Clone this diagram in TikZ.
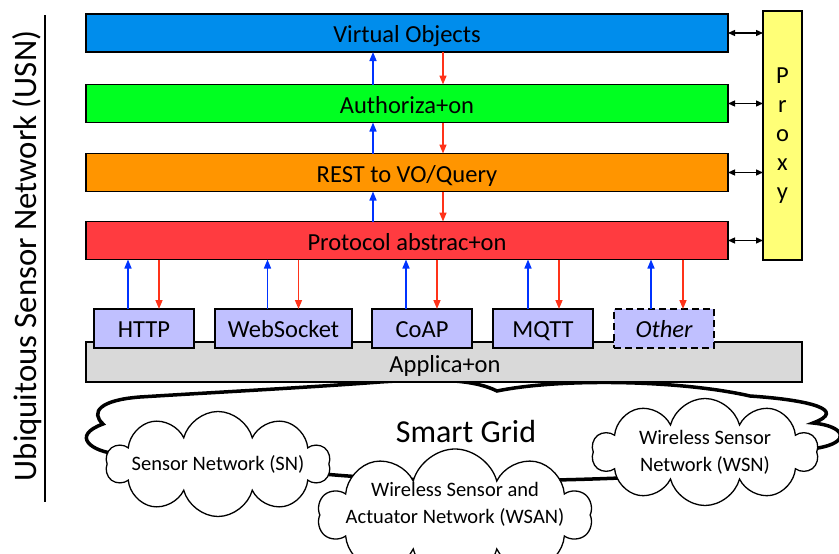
\documentclass[tikz,border=0pt]{standalone}
\usepackage{fontspec}
\setmainfont{Carlito}
\usetikzlibrary{arrows.meta,shapes.symbols}

\definecolor{voblue}{RGB}{0,141,236}
\definecolor{authgreen}{RGB}{0,255,33}
\definecolor{restorange}{RGB}{255,149,0}
\definecolor{protored}{RGB}{255,59,64}
\definecolor{proxyyellow}{RGB}{255,255,119}
\definecolor{lavender}{RGB}{192,192,255}
\definecolor{appgray}{RGB}{217,217,217}
\definecolor{upblue}{RGB}{0,51,255}
\definecolor{downred}{RGB}{255,51,25}

\tikzset{
  layer/.style={draw, line width=1.5pt, minimum width=642, minimum height=38,
    inner sep=0pt, outer sep=0pt, text height=19pt, text depth=0pt,
    font=\fontsize{24.5}{29}\selectfont},
  protobox/.style={draw, fill=lavender, line width=1.8pt, minimum width=100,
    minimum height=39, inner sep=0pt, outer sep=0pt, text height=18pt, text depth=0pt,
    font=\fontsize{24.5}{29}\selectfont},
  netcloud/.style={cloud, cloud puffs=10, cloud ignores aspect, draw, fill=white,
    line width=1.3pt, inner sep=0pt},
  cloudtext/.style={align=center, font=\fontsize{20.5}{27}\selectfont},
  up/.style={draw=upblue, line width=1.5pt, -{Triangle[length=9pt,width=7pt]}},
  down/.style={draw=downred, line width=1.5pt, -{Triangle[length=9pt,width=7pt]}},
  both/.style={line width=1.3pt, {Triangle[length=7pt,width=6pt]}-{Triangle[length=7pt,width=6pt]}}
}

\begin{document}
\begin{tikzpicture}[x=1pt, y=-1pt]
    \clip (0,0) rectangle (839,554);
    % Side label
    \node[rotate=90, font=\fontsize{32.8}{38}\selectfont] (usn) at (27,256) {Ubiquitous Sensor Network (USN)};
    \draw[line width=1.3pt] (45,15) -- (45,502);
    % Layers
    \node[layer, fill=voblue] (vo) at (407,33) {Virtual Objects};
    \node[layer, fill=authgreen] (auth) at (407,103.5) {Authoriza+on};
    \node[layer, fill=restorange] (rest) at (407,172.5) {REST to VO/Query};
    \node[layer, fill=protored] (proto) at (407,240.5) {Protocol abstrac+on};
    \node[draw, fill=proxyyellow, line width=1.5pt, minimum width=39, minimum height=249,
      inner sep=0pt, outer sep=0pt, align=center, font=\fontsize{24.5}{29}\selectfont]
      (proxy) at (782.5,135.5) {P\\r\\o\\x\\y};
    \draw[both] (vo.east) -- (vo.east -| proxy.west);
    \draw[both] (auth.east) -- (auth.east -| proxy.west);
    \draw[both] (rest.east) -- (rest.east -| proxy.west);
    \draw[both] (proto.east) -- (proto.east -| proxy.west);
    \draw[up] ([xshift=-34pt]auth.north) -- ([xshift=-34pt]vo.south);
    \draw[down] ([xshift=36pt]vo.south) -- ([xshift=36pt]auth.north);
    \draw[up] ([xshift=-34pt]rest.north) -- ([xshift=-34pt]auth.south);
    \draw[down] ([xshift=36pt]auth.south) -- ([xshift=36pt]rest.north);
    \draw[up] ([xshift=-34pt]proto.north) -- ([xshift=-34pt]rest.south);
    \draw[down] ([xshift=36pt]rest.south) -- ([xshift=36pt]proto.north);
    % Smart grid
    \draw[line width=3.5pt, line join=miter]
      (118,454) .. controls (92,452) and (70,436) .. (103,424)
      .. controls (90,412) and (100,400) .. (140,397)
      .. controls (220,392) and (300,388) .. (380,382)
      .. controls (440,378) and (475,380) .. (497,391)
      .. controls (560,378) and (680,380) .. (750,396)
      .. controls (810,400) and (848,410) .. (813,423)
      .. controls (845,426) and (852,442) .. (818,448)
      .. controls (780,470) and (700,478) .. (620,478)
      .. controls (520,482) and (420,482) .. (335,475)
      .. controls (250,468) and (180,460) .. cycle;
    \node[font=\fontsize{32}{38}\selectfont] (grid) at (466,432) {Smart Grid};
    % Application and protocols
    \node[draw, fill=appgray, line width=1.3pt, minimum width=716, minimum height=40,
      inner sep=0pt, outer sep=0pt, font=\fontsize{24.5}{29}\selectfont] (app) at (444,362) {};
    \node (apptext) at (445,366) {\fontsize{24.5}{29}\selectfont Applica+on};
    \node[protobox] (http) at (144,328.5) {HTTP};
    \node[protobox, minimum width=137] (ws) at (283.5,328.5) {WebSocket};
    \node[protobox] (coap) at (422,328.5) {CoAP};
    \node[protobox] (mqtt) at (543,328.5) {MQTT};
    \node[protobox, dash pattern=on 7pt off 4pt] (other) at (664,328.5) {\itshape Other};
    \draw[up] ([xshift=-16pt]http.north) -- ([xshift=-16pt]http.north |- proto.south);
    \draw[down] ([xshift=15pt]http.north |- proto.south) -- ([xshift=15pt]http.north);
    \draw[up] ([xshift=-16pt]ws.north) -- ([xshift=-16pt]ws.north |- proto.south);
    \draw[down] ([xshift=15pt]ws.north |- proto.south) -- ([xshift=15pt]ws.north);
    \draw[up] ([xshift=-16pt]coap.north) -- ([xshift=-16pt]coap.north |- proto.south);
    \draw[down] ([xshift=15pt]coap.north |- proto.south) -- ([xshift=15pt]coap.north);
    \draw[up] ([xshift=-15pt]mqtt.north) -- ([xshift=-15pt]mqtt.north |- proto.south);
    \draw[down] ([xshift=16pt]mqtt.north |- proto.south) -- ([xshift=16pt]mqtt.north);
    \draw[up] ([xshift=-13pt]other.north) -- ([xshift=-13pt]other.north |- proto.south);
    \draw[down] ([xshift=19pt]other.north |- proto.south) -- ([xshift=19pt]other.north);
    % Networks
    \node[netcloud, minimum width=224, minimum height=105,
      label={[cloudtext]center:Sensor Network (SN)}] (sn) at (218,464) {};
    \node[netcloud, minimum width=274, minimum height=132,
      label={[cloudtext, yshift=11pt]center:Wireless Sensor and\\Actuator Network (WSAN)}] (wsan) at (455,515) {};
    \node[netcloud, minimum width=226, minimum height=107,
      label={[cloudtext]center:Wireless Sensor\\Network (WSN)}] (wsn) at (705,452) {};
  \end{tikzpicture}
\end{document}
